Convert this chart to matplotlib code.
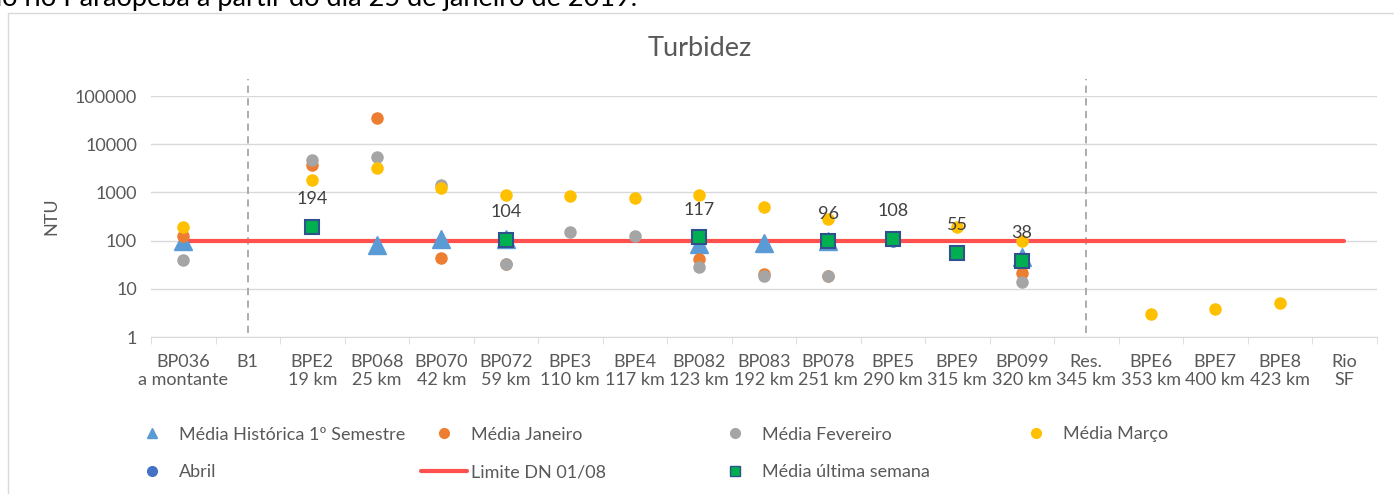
import numpy as np
import matplotlib
matplotlib.use('Agg')
import matplotlib.pyplot as plt
from matplotlib.lines import Line2D
from matplotlib.patches import Rectangle
from matplotlib.ticker import FuncFormatter, NullLocator

plt.rcParams['font.family'] = ['Lato', 'DejaVu Sans']

nan = np.nan

# stations along the river and their distance line
stations = ["BP036", "B1", "BPE2", "BP068", "BP070", "BP072", "BPE3", "BPE4", "BP082",
            "BP083", "BP078", "BPE5", "BPE9", "BP099", "Res.", "BPE6", "BPE7", "BPE8", "Rio"]
distances = ["a montante", "", "19 km", "25 km", "42 km", "59 km", "110 km", "117 km", "123 km",
             "192 km", "251 km", "290 km", "315 km", "320 km", "345 km", "353 km", "400 km",
             "423 km", "SF"]

# turbidity values (NTU)
media_historica = [98, nan, nan, 83, 106, 110, nan, nan, 84, 91, 98, nan, nan, 45, nan, nan, nan, nan, nan]
media_janeiro = [127, nan, 3700, 34500, 44, 33, nan, nan, 42, 20.5, 18.5, nan, nan, 21.5, nan, nan, nan, nan, nan]
media_fevereiro = [40, nan, 4800, 5300, 1450, 32.5, 148, 127, 29, 18, 18.3, nan, nan, 14.1, nan, nan, nan, nan, nan]
media_marco = [189, nan, 1850, 3200, 1240, 890, 830, 755, 890, 500, 282, nan, 195, 100, nan, 3.06, 3.9, 5.0, nan]
abril = [nan, nan, nan, nan, nan, nan, nan, nan, nan, nan, nan, 98, nan, nan, nan, nan, nan, nan, nan]
ultima_semana = [nan, nan, 194, nan, nan, 104, nan, nan, 117, nan, 96, 108, 55, 38, nan, nan, nan, nan, nan]
limite = [100] * len(stations)
separators = ["B1", "Res."]

labels = [f"{s}\n{d}" if d else s for s, d in zip(stations, distances)]
x = np.arange(len(stations))

FS = 13
W, H = 1394, 494
fig = plt.figure(figsize=(W / 100, H / 100), dpi=100)
ax = fig.add_axes([151 / W, 1 - 337 / H, (1376.5 - 151) / W, (337 - 96) / H])

# outer chart frame
fig.add_artist(Rectangle((8 / W, -0.1), 1.1, 1.1 - 13 / H, transform=fig.transFigure,
                         fill=False, edgecolor='#d9d9d9', lw=1))

ax.set_yscale('log')
ax.set_ylim(1, 1e5)
ax.set_xlim(-0.5, len(stations) - 0.5)
ax.yaxis.set_major_formatter(FuncFormatter(lambda v, p: f'{v:.0f}'))
ax.yaxis.set_minor_locator(NullLocator())
ax.grid(axis='y', color='#d9d9d9', lw=1)
ax.set_axisbelow(True)
for side in ['top', 'right', 'left']:
    ax.spines[side].set_visible(False)
ax.spines['bottom'].set_color('#d9d9d9')

ax.set_xticks(x, labels)
ax.set_xticks(np.arange(-0.5, len(stations), 1), minor=True)
ax.tick_params(axis='x', which='major', length=0, pad=12, labelsize=FS, labelcolor='#595959')
ax.tick_params(axis='x', which='minor', length=5, color='#d9d9d9')
ax.tick_params(axis='y', length=0, pad=10, labelsize=FS, labelcolor='#595959')
for lab in ax.get_xticklabels():
    lab.set_linespacing(1.15)
ax.set_ylabel('NTU', fontsize=FS, color='#595959')
ax.yaxis.set_label_coords(-0.075, 0.5)

# dashed separators
for name in separators:
    i = stations.index(name)
    ax.plot([i, i], [0.017, 1.07], transform=ax.get_xaxis_transform(), color='#a6a6a6',
            lw=1.3, ls=(0, (4, 3)), clip_on=False, zorder=1)

ax.plot(x, limite, color='#ff5050', lw=3, solid_capstyle='round', zorder=2)
ax.plot(x, media_historica, ls='none', marker='^', ms=12.5, color='#5b9bd5', zorder=3)
ax.plot(x, media_janeiro, ls='none', marker='o', ms=8, color='#ed7d31', zorder=3)
ax.plot(x, media_fevereiro, ls='none', marker='o', ms=8, color='#a5a5a5', zorder=3)
ax.plot(x, media_marco, ls='none', marker='o', ms=8, color='#ffc000', zorder=3)
ax.plot(x, abril, ls='none', marker='o', ms=8, color='#4472c4', zorder=3)
ax.plot(x, ultima_semana, ls='none', marker='s', ms=9.5, mfc='#00b050', mec='#2f528f',
        mew=1.5, zorder=4)

for xi, v in zip(x, ultima_semana):
    if not np.isnan(v):
        ax.annotate(f'{v:.0f}', (xi, v), xytext=(0, 20), textcoords='offset points',
                    ha='center', va='center', fontsize=FS, color='#404040', zorder=6)

fig.text(700 / W, 1 - 48 / H, 'Turbidez', ha='center', va='center', fontsize=19.5, color='#595959')
fig.text(637 / W, 1 - 6 / H, 'do rio Paraopeba a partir do dia 25 de janeiro de 2019.',
         ha='right', va='baseline', fontsize=19.5, color='black')

# legend, one block per column like the original
h_hist = Line2D([], [], ls='none', marker='^', ms=7, color='#5b9bd5')
h_jan = Line2D([], [], ls='none', marker='o', ms=7, color='#ed7d31')
h_fev = Line2D([], [], ls='none', marker='o', ms=7, color='#a5a5a5')
h_mar = Line2D([], [], ls='none', marker='o', ms=7, color='#ffc000')
h_abr = Line2D([], [], ls='none', marker='o', ms=7, color='#4472c4')
h_lim = Line2D([], [], color='#ff5050', lw=3, solid_capstyle='round')
h_sem = Line2D([], [], ls='none', marker='s', ms=7, mfc='#00b050', mec='#2f528f', mew=1)

columns = [
    ([h_hist, h_abr], ['Média Histórica 1º Semestre', 'Abril'], 152),
    ([h_jan, h_lim], ['Média Janeiro', 'Limite DN 01/08'], 444),
    ([h_fev, h_sem], ['Média Fevereiro', 'Média última semana'], 735),
    ([h_mar], ['Média Março'], 1036),
]
for handles, names, cx in columns:
    fig.legend(handles, names, loc='upper left', bbox_to_anchor=((cx - 23.5) / W, 1 - 426.5 / H),
               frameon=False, handlelength=2.6, handletextpad=0.2, borderpad=0,
               borderaxespad=0, labelspacing=1.2, fontsize=FS, labelcolor='#595959')

fig.savefig('out.png', dpi=100)
